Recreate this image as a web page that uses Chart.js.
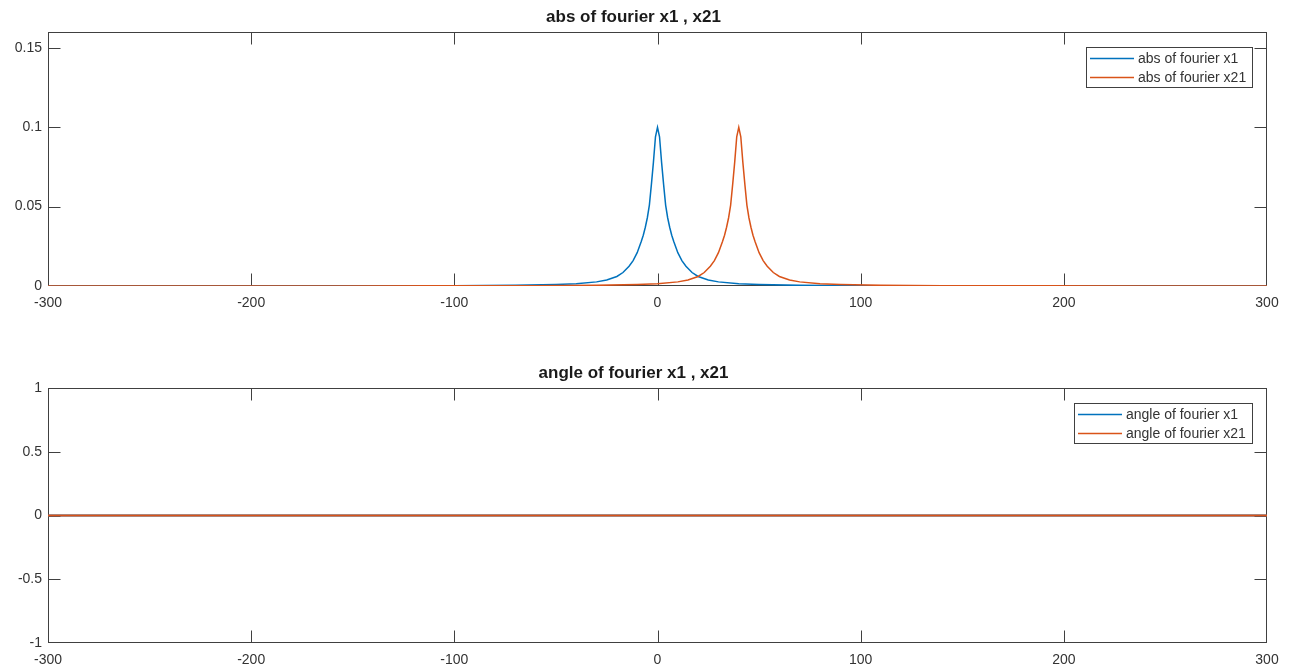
<!DOCTYPE html>
<html>
<head>
<meta charset="utf-8">
<title>fourier x1 , x21</title>
<script src="https://cdn.jsdelivr.net/npm/chart.js@4.4.1/dist/chart.umd.min.js"></script>
<style>
  body { margin: 0; background: #fff; }
  #wrap { position: relative; width: 1289px; height: 670px; background: #fff; }
  .panel { position: absolute; left: 0; width: 1289px; height: 335px; }
</style>
</head>
<body>
<div id="wrap">
  <div class="panel" style="top:0"><canvas id="absChart" width="1289" height="335"></canvas></div>
  <div class="panel" style="top:335px"><canvas id="angleChart" width="1289" height="335"></canvas></div>
</div>
<script>
// |X1(f)| : peak at f = 0
const x1Freq = [-300, -200, -150, -100, -70, -50, -40, -30, -25, -20, -17, -14, -12, -10, -8, -7, -6, -5, -4, -3, -2, -1, 0,
                1, 2, 3, 4, 5, 6, 7, 8, 10, 12, 14, 17, 20, 25, 30, 40, 50, 70, 100, 150, 200, 300];
const x1Mag = [0.00002, 0.00005, 0.0001, 0.0002, 0.0004, 0.0009, 0.0014, 0.0026, 0.0038, 0.006, 0.0085, 0.0125, 0.016, 0.021, 0.028, 0.032, 0.037, 0.043, 0.051, 0.064, 0.078, 0.094, 0.1,
               0.094, 0.078, 0.064, 0.051, 0.043, 0.037, 0.032, 0.028, 0.021, 0.016, 0.0125, 0.0085, 0.006, 0.0038, 0.0026, 0.0014, 0.0009, 0.0004, 0.0002, 0.0001, 0.00005, 0.00002];

// |X21(f)| : same shape, peak at f = 40
const x21Freq = [-300, -160, -110, -60, -30, -10, 0, 10, 15, 20, 23, 26, 28, 30, 32, 33, 34, 35, 36, 37, 38, 39, 40,
                 41, 42, 43, 44, 45, 46, 47, 48, 50, 52, 54, 57, 60, 65, 70, 80, 90, 110, 140, 190, 240, 300];
const x21Mag = [0.00002, 0.00005, 0.0001, 0.0002, 0.0004, 0.0009, 0.0014, 0.0026, 0.0038, 0.006, 0.0085, 0.0125, 0.016, 0.021, 0.028, 0.032, 0.037, 0.043, 0.051, 0.064, 0.078, 0.094, 0.1,
                0.094, 0.078, 0.064, 0.051, 0.043, 0.037, 0.032, 0.028, 0.021, 0.016, 0.0125, 0.0085, 0.006, 0.0038, 0.0026, 0.0014, 0.0009, 0.0004, 0.0002, 0.0001, 0.00005, 0.00002];

// phase of both transforms
const angleFreq = [-300, -200, -100, 0, 100, 200, 300];
const angleX1 = [0, 0, 0, 0, 0, 0, 0];
const angleX21 = [0, 0, 0, 0, 0, 0, 0];

const freqTicks = [-300, -200, -100, 0, 100, 200, 300];
const freqTickLabels = ['-300', '-200', '-100', '0', '100', '200', '300'];
const absTicks = [0, 0.05, 0.1, 0.15];
const absTickLabels = ['0', '0.05', '0.1', '0.15'];
const angleTicks = [-1, -0.5, 0, 0.5, 1];
const angleTickLabels = ['-1', '-0.5', '0', '0.5', '1'];

const BLUE = '#0072BD';
const ORANGE = '#D95319';
const AXIS = '#404040';
const TEXT = '#333333';
const FONT = "'Liberation Sans', Arial, Helvetica, sans-serif";

function pairs(xs, ys) {
  return xs.map((x, i) => ({ x: x, y: ys[i] }));
}

// box around the axes with inward tick marks on all four sides (drawn under the curves),
// plus a framed legend in the upper right
const axesBox = {
  id: 'axesBox',
  beforeDatasetsDraw(chart) {
    const ctx = chart.ctx;
    const a = chart.chartArea;
    const xs = chart.scales.x, ys = chart.scales.y;
    const L = Math.round(a.left) + 0.5, R = Math.round(a.right) - 0.5;
    const T = Math.round(a.top) + 0.5, B = Math.round(a.bottom) - 0.5;
    const len = 12;
    ctx.save();
    ctx.strokeStyle = AXIS;
    ctx.lineWidth = 1;
    ctx.strokeRect(L, T, R - L, B - T);
    ctx.beginPath();
    xs.ticks.forEach(t => {
      const px = Math.round(xs.getPixelForValue(t.value)) + 0.5;
      if (px <= L + 1 || px >= R - 1) return;
      ctx.moveTo(px, B); ctx.lineTo(px, B - len);
      ctx.moveTo(px, T); ctx.lineTo(px, T + len);
    });
    ys.ticks.forEach(t => {
      const py = Math.round(ys.getPixelForValue(t.value)) + 0.5;
      if (py <= T + 1 || py >= B - 1) return;
      ctx.moveTo(L, py); ctx.lineTo(L + len, py);
      ctx.moveTo(R, py); ctx.lineTo(R - len, py);
    });
    ctx.stroke();
    ctx.restore();
  },
  afterDraw(chart) {
    const ctx = chart.ctx;
    const a = chart.chartArea;
    const sets = chart.data.datasets;
    ctx.save();
    ctx.font = '14px ' + FONT;
    const textW = Math.max(...sets.map(d => ctx.measureText(d.label).width));
    const w = Math.round(4 + 44 + 4 + textW + 6), h = 40;
    const x0 = Math.round(a.right - 15 - w), y0 = Math.round(a.top + 15);
    ctx.fillStyle = '#fff';
    ctx.fillRect(x0, y0, w, h);
    ctx.strokeStyle = AXIS;
    ctx.lineWidth = 1;
    ctx.strokeRect(x0 + 0.5, y0 + 0.5, w, h);
    sets.forEach((d, i) => {
      const cy = y0 + 11 + i * 19;
      ctx.strokeStyle = d.borderColor;
      ctx.lineWidth = 1.5;
      ctx.beginPath();
      ctx.moveTo(x0 + 4, cy + 0.5);
      ctx.lineTo(x0 + 48, cy + 0.5);
      ctx.stroke();
      ctx.fillStyle = TEXT;
      ctx.textAlign = 'left';
      ctx.textBaseline = 'middle';
      ctx.fillText(d.label, x0 + 52, cy + 1);
    });
    ctx.restore();
  }
};

function makeChart(id, cfg) {
  const tickFont = { family: FONT, size: 14 };
  return new Chart(document.getElementById(id), {
    type: 'line',
    data: {
      datasets: [
        { label: cfg.labels[0], data: cfg.series[0], borderColor: BLUE, borderWidth: cfg.lineWidth, pointRadius: 0, tension: 0, order: 1 },
        { label: cfg.labels[1], data: cfg.series[1], borderColor: ORANGE, borderWidth: cfg.lineWidth, pointRadius: 0, tension: 0, order: 0 }
      ]
    },
    options: {
      responsive: false,
      animation: false,
      events: [],
      layout: { padding: { left: 0, right: 22, top: 0, bottom: 0 } },
      scales: {
        x: {
          type: 'linear',
          min: -300,
          max: 300,
          afterBuildTicks: s => { s.ticks = freqTicks.map(v => ({ value: v })); },
          afterFit: s => { s.height = cfg.xHeight; },
          grid: { display: false, drawTicks: false },
          border: { display: false },
          ticks: { font: tickFont, color: TEXT, padding: 9, maxRotation: 0, autoSkip: false,
                   callback: (v, i) => freqTickLabels[i] }
        },
        y: {
          min: cfg.yMin,
          max: cfg.yMax,
          afterBuildTicks: s => { s.ticks = cfg.yTicks.map(v => ({ value: v })); },
          afterFit: s => { s.width = 48; },
          grid: { display: false, drawTicks: false },
          border: { display: false },
          ticks: { font: tickFont, color: TEXT, padding: 6, autoSkip: false,
                   callback: (v, i) => cfg.yTickLabels[i] }
        }
      },
      plugins: {
        legend: { display: false },
        tooltip: { enabled: false },
        title: {
          display: true,
          text: cfg.title,
          color: '#1a1a1a',
          font: { family: FONT, size: 17, weight: 'bold' },
          padding: cfg.titlePad
        }
      }
    },
    plugins: [axesBox]
  });
}

// magnitude spectra
makeChart('absChart', {
  title: 'abs of fourier x1 , x21',
  labels: ['abs of fourier x1', 'abs of fourier x21'],
  series: [pairs(x1Freq, x1Mag), pairs(x21Freq, x21Mag)],
  yMin: 0, yMax: 0.16,
  yTicks: absTicks, yTickLabels: absTickLabels,
  titlePad: { top: 7.3, bottom: 4.3 },
  xHeight: 49,
  lineWidth: 1.5
});

// phase spectra (flat at zero, orange drawn over blue)
makeChart('angleChart', {
  title: 'angle of fourier x1 , x21',
  labels: ['angle of fourier x1', 'angle of fourier x21'],
  series: [pairs(angleFreq, angleX1), pairs(angleFreq, angleX21)],
  yMin: -1, yMax: 1,
  yTicks: angleTicks, yTickLabels: angleTickLabels,
  titlePad: { top: 27.8, bottom: 4.8 },
  xHeight: 27,
  lineWidth: 2
});
</script>
</body>
</html>
